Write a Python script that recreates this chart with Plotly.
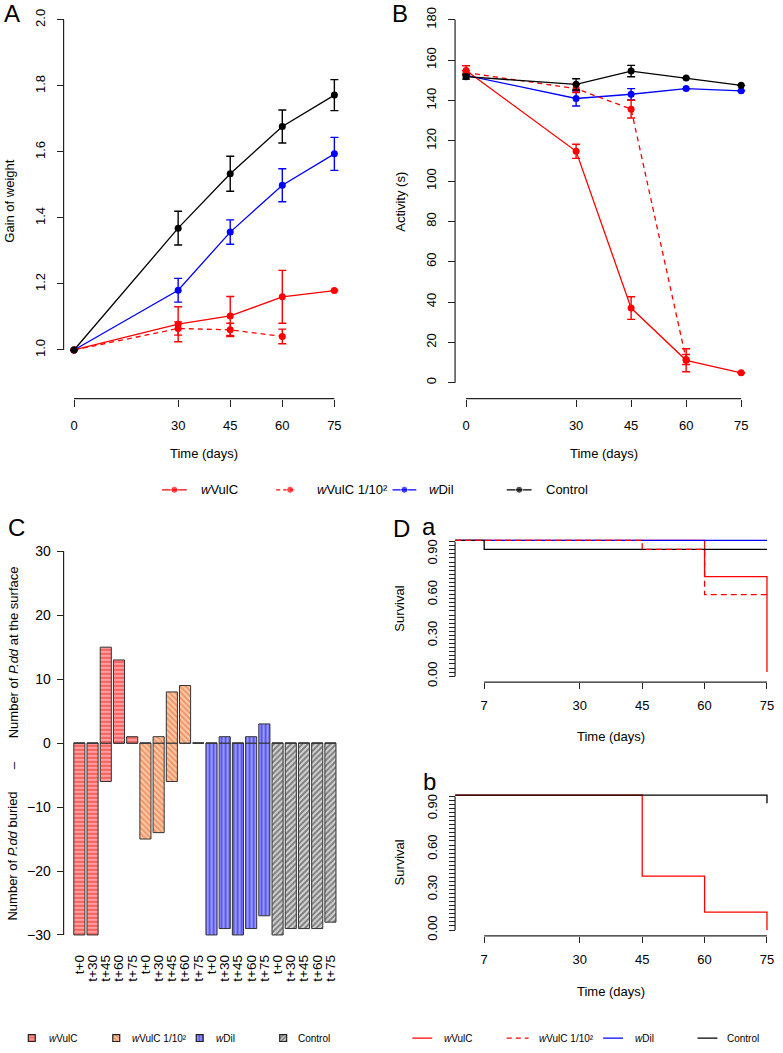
import plotly.graph_objects as go

W, H = 783, 1053
def fx(px): return px / W
def fy(py): return 1 - py / H

FONT = "Liberation Sans, Arial, sans-serif"
AX = "#222222"
RED, BLUE, BLACK = "#ff0000", "#0000ff", "#000000"

# ---------------- data ----------------
days = [0, 30, 45, 60, 75]
days_dil = [0, 30, 45, 60]
series_names = ["<i>w</i>VulC", "<i>w</i>VulC 1/10²", "<i>w</i>Dil", "Control"]

# Panel A : gain of weight
gain_wvulc = [1.0, 1.078, 1.103, 1.161, 1.18]
gain_wvulc_err = [None, 0.053, 0.059, 0.08, None]
gain_wvulc_dil = [1.0, 1.065, 1.061, 1.041]
gain_wvulc_dil_err = [None, 0.02, 0.02, 0.022]
gain_wdil = [1.0, 1.181, 1.357, 1.499, 1.594]
gain_wdil_err = [None, 0.036, 0.037, 0.05, 0.05]
gain_control = [1.0, 1.369, 1.534, 1.677, 1.772]
gain_control_err = [None, 0.051, 0.053, 0.05, 0.047]

# Panel B : activity (s)
act_wvulc = [154.9, 114.8, 37.0, 11.1, 4.9]
act_wvulc_err = [2.3, 3.5, 5.6, 5.7, None]
act_wvulc_dil = [153.8, 145.9, 135.7, 11.5]
act_wvulc_dil_err = [1.0, 2.0, 4.4, 2.5]
act_wdil = [152.5, 141.0, 143.1, 145.9, 144.8]
act_wdil_err = [None, 3.7, 2.8, None, None]
act_control = [151.8, 148.0, 154.6, 151.1, 147.5]
act_control_err = [1.2, 2.8, 2.8, None, None]

# Panel C : buried / at the surface
bar_labels = ["t+0", "t+30", "t+45", "t+60", "t+75"]
surface_wvulc = [0, 0, 15, 13, 1]
buried_wvulc = [30, 30, 6, 0, 0]
surface_wvulc_dil = [0, 1, 8, 9, 0]
buried_wvulc_dil = [15, 14, 6, 0, 0]
surface_wdil = [0, 1, 0, 1, 3]
buried_wdil = [30, 29, 30, 29, 27]
surface_control = [0, 0, 0, 0, 0]
buried_control = [30, 29, 29, 29, 28]

# Panel D a : survival
sa_wvulc_t = [0, 60, 75];        sa_wvulc = [1.0, 0.733, 0.03]
sa_wvulc_dil_t = [0, 45, 60, 75]; sa_wvulc_dil = [1.0, 0.933, 0.6, 0.6]
sa_wdil_t = [0, 75];             sa_wdil = [1.0, 1.0]
sa_control_t = [0, 7, 75];       sa_control = [1.0, 0.933, 0.933]
# Panel D b : survival
sb_wvulc_t = [0, 45, 60, 75];    sb_wvulc = [1.0, 0.4, 0.133, 0.0]
sb_control_t = [0, 75];          sb_control = [1.0, 0.94]

fig = go.Figure()

# ---------------- A & B lines ----------------
def line_tr(x, y, err, color, dash, xa, ya):
    return go.Scatter(
        x=x, y=y, mode="lines+markers", xaxis=xa, yaxis=ya,
        line=dict(color=color, width=1.3, dash=dash),
        marker=dict(color=color, size=7),
        error_y=dict(type="data", array=err, visible=True, color=color,
                     thickness=1.4, width=4),
        showlegend=False, cliponaxis=False, hoverinfo="skip")

DASH = "5px,4px"
for xa, ya, sets in [
    ("x", "y", [(days, gain_wdil, gain_wdil_err, BLUE, "solid"),
                (days, gain_wvulc, gain_wvulc_err, RED, "solid"),
                (days_dil, gain_wvulc_dil, gain_wvulc_dil_err, RED, DASH),
                (days, gain_control, gain_control_err, BLACK, "solid")]),
    ("x2", "y2", [(days, act_wdil, act_wdil_err, BLUE, "solid"),
                  (days, act_wvulc, act_wvulc_err, RED, "solid"),
                  (days_dil, act_wvulc_dil, act_wvulc_dil_err, RED, DASH),
                  (days, act_control, act_control_err, BLACK, "solid")])]:
    for (x, y, e, c, d) in sets:
        fig.add_trace(line_tr(x, y, e, c, d, xa, ya))

# ---------------- C bars ----------------
groups = [
    (surface_wvulc, buried_wvulc, "-", "#ff9c9c", "#ee2a2a"),
    (surface_wvulc_dil, buried_wvulc_dil, "\\", "#ffcaa6", "#e0602a"),
    (surface_wdil, buried_wdil, "|", "#9898ff", "#1a1ad8"),
    (surface_control, buried_control, "/", "#d4d4d4", "#262626"),
]
tickpos, ticktxt = [], []
for gi, (surf, bur, shp, bg, fg) in enumerate(groups):
    pos = [gi * 5 + j + 1 for j in range(len(bar_labels))]
    tickpos += pos
    ticktxt += bar_labels
    fig.add_trace(go.Bar(
        x=pos + pos, y=[-b for b in bur] + surf, base=0, width=0.84,
        xaxis="x3", yaxis="y3", showlegend=False, hoverinfo="skip",
        marker=dict(color=bg, line=dict(color="#333333", width=1),
                    pattern=dict(shape=shp, fgcolor=fg, bgcolor=bg,
                                 size=4, solidity=0.5))))

# ---------------- D survival ----------------
def surv_tr(x, y, color, dash, xa, ya):
    return go.Scatter(x=x, y=y, mode="lines", line_shape="hv",
                      line=dict(color=color, width=1.3, dash=dash),
                      xaxis=xa, yaxis=ya, showlegend=False, hoverinfo="skip")
DDASH = "6px,4px"
fig.add_trace(surv_tr(sa_wvulc_t, sa_wvulc, RED, "solid", "x4", "y4"))
fig.add_trace(surv_tr(sa_wdil_t, sa_wdil, BLUE, "solid", "x4", "y4"))
fig.add_trace(surv_tr(sa_control_t, sa_control, BLACK, "solid", "x4", "y4"))
fig.add_trace(surv_tr(sa_wvulc_dil_t, sa_wvulc_dil, RED, DDASH, "x4", "y4"))
fig.add_trace(surv_tr(sb_wvulc_t, sb_wvulc, RED, "solid", "x5", "y5"))
fig.add_trace(surv_tr(sb_control_t, sb_control, BLACK, "solid", "x5", "y5"))

# ---------------- legends (helper strips) ----------------
lx_ab = [(163, 188, RED, "solid", 200), (278, 298, RED, "4px,3px", 317),
         (395, 419, BLUE, "solid", 430), (510, 535, BLACK, "solid", 547)]
for (x0, x1, c, d, tx), name in zip(lx_ab, series_names):
    fig.add_trace(go.Scatter(x=[x0, (x0 + x1) / 2 if d == "solid" else x1 - 6, x1],
                             y=[494, 494, 494], mode="lines+markers",
                             line=dict(color=c, width=1.3, dash=d),
                             marker=dict(color=c, size=[0, 7, 0]),
                             xaxis="x7", yaxis="y7", showlegend=False, hoverinfo="skip"))
    fig.add_annotation(x=fx(tx), y=fy(494), xref="paper", yref="paper", text=name,
                       showarrow=False, xanchor="left", yanchor="middle",
                       font=dict(size=13, color="black"))

lx_c = [(32, 47), (117, 131), (201, 215), (285, 298)]
for (sx, tx), (surf, bur, shp, bg, fg), name in zip(lx_c, groups, series_names):
    fig.add_trace(go.Bar(x=[sx], y=[-7], base=1050.5, width=7, xaxis="x6", yaxis="y6",
                         showlegend=False, hoverinfo="skip",
                         marker=dict(color=bg, line=dict(color="#222222", width=1.2),
                                     pattern=dict(shape=shp, fgcolor=fg, bgcolor=bg,
                                                  size=3, solidity=0.55))))
    fig.add_annotation(x=fx(tx), y=fy(1047), xref="paper", yref="paper", text=name,
                       showarrow=False, xanchor="left", yanchor="middle",
                       font=dict(size=10, color="black"))
lx_d = [(415, 435, RED, "solid", 445), (510, 532, RED, "5px,4px", 540),
        (607, 627, BLUE, "solid", 637), (702, 722, BLACK, "solid", 730)]
for (x0, x1, c, d, tx), name in zip(lx_d, series_names):
    fig.add_trace(go.Scatter(x=[x0, x1], y=[1047, 1047], mode="lines",
                             line=dict(color=c, width=1.3, dash=d),
                             xaxis="x6", yaxis="y6", showlegend=False, hoverinfo="skip"))
    fig.add_annotation(x=fx(tx), y=fy(1047), xref="paper", yref="paper", text=name,
                       showarrow=False, xanchor="left", yanchor="middle",
                       font=dict(size=10, color="black"))

# ---------------- axes ----------------
def xcfg(d0, d1, rng, pos_py, tickvals, ticklen=7, standoff=8, size=13):
    return dict(domain=[fx(d0), fx(d1)], range=rng, anchor="free", position=fy(pos_py),
                showline=False, showgrid=False, zeroline=False, ticks="outside",
                ticklen=ticklen, tickwidth=1.1, tickcolor=AX, tickmode="array",
                tickvals=tickvals, ticktext=[str(v) for v in tickvals],
                tickfont=dict(size=size, color="black"), ticklabelstandoff=standoff,
                ticklabeloverflow="allow", fixedrange=True)

def ycfg(top_py, bot_py, rng, pos_px, tickvals=None, ticktext=None, angle=-90, size=13,
         standoff=6, **kw):
    d = dict(domain=[fy(bot_py), fy(top_py)], range=rng, anchor="free", position=fx(pos_px),
             showline=False, showgrid=False, zeroline=False, ticks="outside",
             ticklen=7, tickwidth=1.1, tickcolor=AX, tickangle=angle,
             tickfont=dict(size=size, color="black"), ticklabelstandoff=standoff,
             ticklabeloverflow="allow", fixedrange=True)
    if tickvals is not None:
        d.update(tickmode="array", tickvals=tickvals, ticktext=ticktext)
    d.update(kw)
    return d

gain_ticks = [1.0, 1.2, 1.4, 1.6, 1.8, 2.0]
act_ticks = [0, 20, 40, 60, 80, 100, 120, 140, 160, 180]
c_ticks = [-30, -20, -10, 0, 10, 20, 30]
minor_d = dict(tickmode="linear", tick0=0, dtick=0.03, ticks="outside",
               ticklen=6, tickcolor=AX, tickwidth=1.1, showgrid=False)

fig.update_layout(
    xaxis=xcfg(64, 347, [-3, 78], 402, days),
    yaxis=ycfg(6.7, 366.3, [0.96, 2.04], 64, gain_ticks, [f"{v:.1f}" for v in gain_ticks]),
    xaxis2=xcfg(458, 757, [-3, 78], 402, days),
    yaxis2=ycfg(5.4, 400.6, [-7.2, 187.2], 458, act_ticks, [str(v) for v in act_ticks],
                standoff=7),
    xaxis3=dict(domain=[fx(64), fx(347)], range=[-0.192, 21.086], anchor="y3",
                showline=False, showgrid=False, zeroline=False, ticks="",
                tickmode="array", tickvals=tickpos, ticktext=ticktxt, tickangle=-90,
                tickfont=dict(size=13.5, color="black"), ticklabelstandoff=1,
                fixedrange=True),
    yaxis3=ycfg(540.5, 958.5, [-32.4, 32.4], 64, c_ticks,
                [str(v).replace("-", "\u2212") for v in c_ticks], angle=0, size=14,
                standoff=3),
    xaxis4=xcfg(458, 774, [0, 75.5], 688, [7, 30, 45, 60, 75], ticklen=6, standoff=5),
    yaxis4=ycfg(543.6, 683.4, [-0.01, 1.01], 458, angle=-90, ticklen=6, standoff=7,
                tickmode="linear", tick0=0, dtick=0.3, tickformat=".2f", minor=minor_d),
    xaxis5=xcfg(458, 774, [0, 75.5], 944, [7, 30, 45, 60, 75], ticklen=6, standoff=5),
    yaxis5=ycfg(800.6, 939.4, [-0.01, 1.01], 458, angle=-90, ticklen=6, standoff=7,
                tickmode="linear", tick0=0, dtick=0.3, tickformat=".2f", minor=minor_d),
    xaxis6=dict(domain=[0, 1], range=[0, W], anchor="y6", visible=False, fixedrange=True),
    yaxis6=dict(domain=[0, fy(1030)], range=[H, 1030], anchor="x6", visible=False, fixedrange=True),
    xaxis7=dict(domain=[0, 1], range=[0, W], anchor="y7", visible=False, fixedrange=True),
    yaxis7=dict(domain=[fy(508), fy(480)], range=[508, 480], anchor="x7", visible=False, fixedrange=True),
)

def hline_x(xref, a, b, py):
    return dict(type="line", xref=xref, yref="paper", x0=a, x1=b, y0=fy(py), y1=fy(py),
                line=dict(color=AX, width=1.2), layer="above")
def vline_y(yref, a, b, px):
    return dict(type="line", xref="paper", yref=yref, x0=fx(px), x1=fx(px), y0=a, y1=b,
                line=dict(color=AX, width=1.2), layer="above")

fig.update_layout(shapes=[
    hline_x("x", 0, 75, 402), vline_y("y", 1.0, 2.0, 64),
    hline_x("x2", 0, 75, 402), vline_y("y2", 0, 180, 458),
    vline_y("y3", -30, 30, 64),
    hline_x("x4", 7, 75, 688), vline_y("y4", 0, 0.99, 458),
    hline_x("x5", 7, 75, 944), vline_y("y5", 0, 0.99, 458),
])

def ann(x, y, text, size=13, angle=0, xanchor="center"):
    fig.add_annotation(x=fx(x), y=fy(y), xref="paper", yref="paper", text=text,
                       showarrow=False, textangle=angle, xanchor=xanchor, yanchor="middle",
                       font=dict(size=size, color="black"))

ann(12, 14, "A", 24); ann(403, 14, "B", 24); ann(17, 532, "C", 24)
ann(404, 533, "D", 24); ann(432, 531, "a", 24); ann(432, 788, "b", 24)

ann(9.5, 203, "Gain of weight", angle=-90)
ann(205.5, 457, "Time (days)")
ann(403, 203, "Activity (s)", angle=-90)
ann(607.5, 457, "Time (days)")
ann(402.5, 614, "Survival", angle=-90)
ann(615, 743, "Time (days)")
ann(402.5, 870, "Survival", angle=-90)
ann(615, 1000, "Time (days)")

ann(13, 863, "Number of <i>P.dd</i> buried", angle=-90)
ann(13, 772, "\u2013", angle=-90)
ann(13, 658, "Number of <i>P.dd</i> at the surface", angle=-90)

fig.update_layout(
    width=W, height=H, margin=dict(l=0, r=0, t=0, b=0),
    paper_bgcolor="white", plot_bgcolor="rgba(0,0,0,0)",
    barmode="overlay", showlegend=False,
    font=dict(family=FONT, color="black"),
)

fig.write_html("out.html", config={"displayModeBar": False},
               post_script="document.body.style.margin='0';document.body.style.overflow='hidden';")
